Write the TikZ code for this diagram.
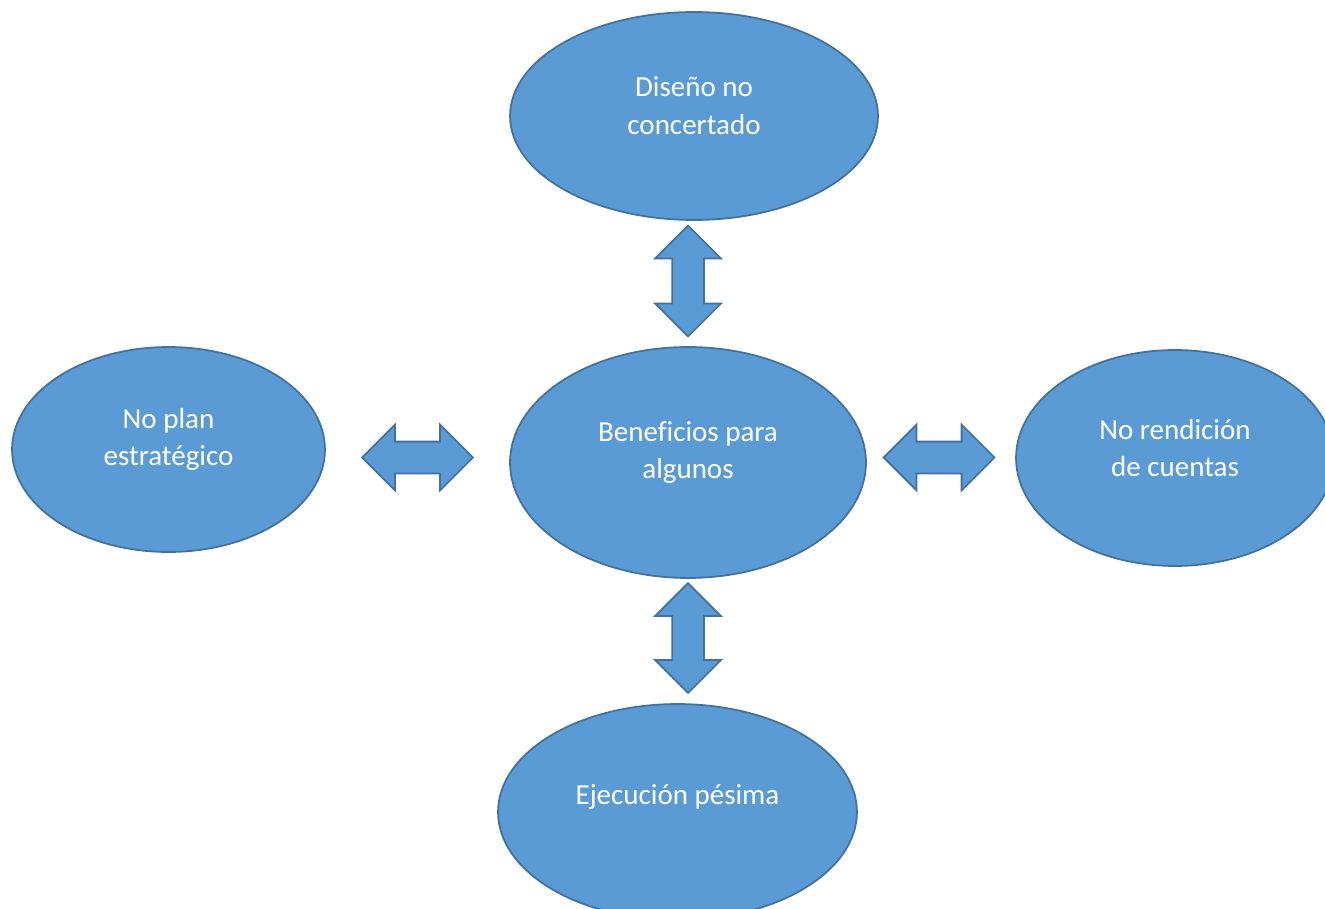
\documentclass[tikz,border=0pt]{standalone}
\usepackage{fontspec}
\setmainfont{Carlito}[Ligatures=CommonOff]
\usetikzlibrary{shapes.geometric,shapes.arrows}
\definecolor{bubfill}{HTML}{5B9BD5}
\definecolor{bubline}{HTML}{41719C}
\begin{document}
\begin{tikzpicture}[x=0.02cm,y=-0.02cm,line width=1pt,
		bubble/.style={ellipse,draw=bubline,fill=bubfill,inner sep=0pt},
		bubtext/.style={text=white,align=center,font=\fontsize{16.5}{21.5}\selectfont,yshift=0.2cm},
		dblarrow/.style={double arrow,draw=bubline,fill=bubfill,inner sep=0.3cm,
			minimum height=2.22cm,minimum width=1.28cm,double arrow head extend=0.34cm}]
		
		\clip (0,0) rectangle (1325,909);
		
		\node[bubble,minimum width=7.36cm,minimum height=4.16cm] (dis) at (694,116)
			[label={[name=disT,bubtext]center:Diseño no\\concertado}] {};
		\node[bubble,minimum width=6.26cm,minimum height=4.1cm] (plan) at (168.5,449.5)
			[label={[name=planT,bubtext]center:No plan\\estratégico}] {};
		\node[bubble,minimum width=7.12cm,minimum height=4.62cm] (ben) at (688,462.5)
			[label={[name=benT,bubtext]center:Beneficios para\\algunos}] {};
		\node[bubble,minimum width=6.36cm,minimum height=4.32cm] (ren) at (1175,458)
			[label={[name=renT,bubtext]center:No rendición\\de cuentas}] {};
		\node[bubble,minimum width=7.18cm,minimum height=4.32cm] (eje) at (677.5,812)
			[label={[name=ejeT,bubtext,yshift=0.1cm]center:Ejecución pésima}] {};
		
		\node[dblarrow,rotate=90] (a1) at (688,281) {};
		\node[dblarrow] (a2) at (417.5,457.5) {};
		\node[dblarrow] (a3) at (939,457.5) {};
		\node[dblarrow,rotate=90,minimum height=2.2cm] (a4) at (688,638) {};
\end{tikzpicture}
\end{document}
